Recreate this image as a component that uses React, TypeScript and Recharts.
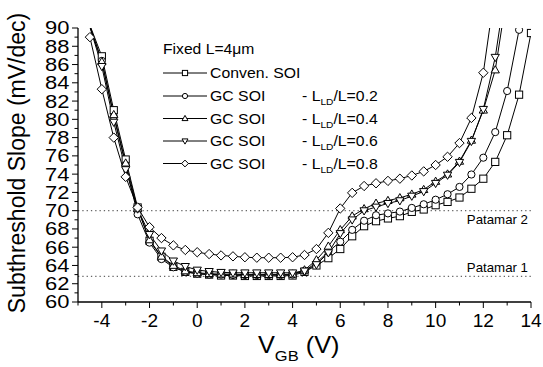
import React from 'react';
import { LineChart, Line, XAxis, YAxis, ReferenceLine } from 'recharts';

const vgb = [-4.5, -4, -3.5, -3, -2.5, -2, -1.5, -1, -0.5, 0, 0.5, 1, 1.5, 2, 2.5, 3, 3.5, 4, 4.5, 5, 5.5, 6, 6.5, 7, 7.5, 8, 8.5, 9, 9.5, 10, 10.5, 11, 11.5, 12, 12.5, 13, 13.5, 14];

const convenSOI = [90.3, 86.9, 81.0, 75.6, 70.35, 66.7, 64.95, 63.85, 63.3, 63.1, 63.0, 62.9, 62.9, 62.85, 62.85, 62.85, 62.85, 62.9, 63.3, 64.0, 64.8, 65.8, 67.2, 68.3, 68.85, 69.15, 69.4, 69.87, 70.13, 70.6, 70.96, 71.44, 72.4, 73.5, 75.34, 78.26, 82.7, 89.45];
const gc02 = [90.2, 86.4, 80.3, 75.0, 69.6, 66.5, 64.7, 63.8, 63.3, 63.1, 63.0, 63.0, 62.95, 62.95, 62.95, 62.95, 62.95, 63.0, 63.4, 64.3, 65.5, 66.6, 67.9, 68.9, 69.5, 69.7, 69.9, 70.3, 70.7, 71.2, 71.8, 72.6, 73.96, 75.8, 78.6, 83.1, 89.8, null];
const gc04 = [90.15, 86.3, 80.5, 75.2, 70.2, 66.8, 65.0, 64.0, 63.4, 63.2, 63.1, 63.05, 63.05, 63.0, 63.0, 63.0, 63.0, 63.05, 63.5, 64.6, 66.1, 67.9, 69.4, 70.2, 70.8, 71.1, 71.4, 71.8, 72.3, 73.2, 74.0, 75.4, 77.7, 81.0, 85.4, 93.8, null, null];
const gc06 = [90.1, 85.8, 79.7, 74.5, 70.2, 67.4, 65.6, 64.5, 63.9, 63.5, 63.35, 63.25, 63.2, 63.2, 63.2, 63.2, 63.2, 63.2, 63.4, 64.1, 65.4, 67.5, 69.0, 70.0, 70.4, 70.8, 71.1, 71.6, 72.1, 73.0, 73.9, 75.3, 77.6, 81.1, 86.8, 95.4, null, null];
const gc08 = [89.0, 83.3, 78.0, 73.7, 70.35, 68.2, 67.0, 66.2, 65.7, 65.45, 65.25, 65.1, 65.0, 64.9, 64.85, 64.85, 64.85, 64.9, 65.15, 65.8, 67.57, 70.24, 71.95, 72.7, 73.0, 73.26, 73.5, 73.85, 74.3, 75.0, 75.9, 77.4, 80.15, 85.1, 94.3, null, null, null];

const seriesKeys = ['conv', 'gc02', 'gc04', 'gc06', 'gc08'];
const seriesValues = [convenSOI, gc02, gc04, gc06, gc08];
const seriesShapes = ['square', 'circle', 'up', 'down', 'diamond'];
const seriesNames = ['Conven. SOI', 'GC SOI', 'GC SOI', 'GC SOI', 'GC SOI'];
const seriesRatios = ['', '0.2', '0.4', '0.6', '0.8'];

const legendTitle = 'Fixed L=4\u03bcm';
const yTitle = 'Subthreshold Slope (mV/dec)';

const xTicks = [-5, -4, -3, -2, -1, 0, 1, 2, 3, 4, 5, 6, 7, 8, 9, 10, 11, 12, 13, 14];
const xLabelTicks = [-4, -2, 0, 2, 4, 6, 8, 10, 12, 14];
const yTicks = [60, 61, 62, 63, 64, 65, 66, 67, 68, 69, 70, 71, 72, 73, 74, 75, 76, 77, 78, 79, 80, 81, 82, 83, 84, 85, 86, 87, 88, 89, 90];
const yLabelTicks = [60, 62, 64, 66, 68, 70, 72, 74, 76, 78, 80, 82, 84, 86, 88, 90];

const patamarLevels = [62.8, 70];
const patamarLabels = ['Patamar 1', 'Patamar 2'];

const data = vgb.map((v, i) => {
  const row: any = { vgb: v };
  seriesKeys.forEach((k, j) => { row[k] = seriesValues[j][i]; });
  return row;
});

const FONT = '"Liberation Sans", Arial, Helvetica, sans-serif';

function SText({ x, y, sx = 1, children, ...rest }: any) {
  return (
    <g transform={`translate(${x},${y}) scale(${sx},1)`}>
      <text x={0} y={0} fontFamily={FONT} fill="#000" {...rest}>{children}</text>
    </g>
  );
}

function Marker({ shape, cx, cy, s }: any) {
  const common = { fill: '#fff', stroke: '#000', strokeWidth: 1 };
  if (shape === 'square') return <rect x={cx - s} y={cy - s} width={2 * s} height={2 * s} {...common} />;
  if (shape === 'circle') return <circle cx={cx} cy={cy} r={s} {...common} />;
  if (shape === 'up') {
    const p = `${cx},${cy - s * 1.2} ${cx + s * 1.15},${cy + s * 0.8} ${cx - s * 1.15},${cy + s * 0.8}`;
    return <polygon points={p} {...common} />;
  }
  if (shape === 'down') {
    const p = `${cx},${cy + s * 1.2} ${cx + s * 1.15},${cy - s * 0.8} ${cx - s * 1.15},${cy - s * 0.8}`;
    return <polygon points={p} {...common} />;
  }
  const d = s * 1.3;
  const p = `${cx},${cy - d} ${cx + d},${cy} ${cx},${cy + d} ${cx - d},${cy}`;
  return <polygon points={p} {...common} />;
}

const makeDot = (shape: string) => (props: any) => {
  const { cx, cy, value, index } = props;
  if (value == null || value > 90 || cx == null || cy == null) return <g key={`d${index}`} />;
  return (
    <g key={`d${index}`}>
      <Marker shape={shape} cx={cx} cy={cy} s={3.6} />
    </g>
  );
};

const YTick = (props: any) => {
  const { x, y, payload } = props;
  const v = payload.value;
  const major = yLabelTicks.includes(v);
  return (
    <g>
      <line x1={x - (major ? 6 : 3.5)} x2={x} y1={y} y2={y} stroke="#000" strokeWidth={1} />
      {major && (
        <SText x={x - 8.5} y={y} sx={1.22} dy="0.36em" textAnchor="end" fontSize={18}>
          {v}
        </SText>
      )}
    </g>
  );
};

const XTick = (props: any) => {
  const { x, y, payload } = props;
  const v = payload.value;
  const major = xLabelTicks.includes(v);
  return (
    <g>
      <line x1={x} x2={x} y1={y} y2={y + (major ? 6 : 3.5)} stroke="#000" strokeWidth={1} />
      {major && (
        <SText x={x} y={y + 24.5} sx={1.06} textAnchor="middle" fontSize={18}>
          {v}
        </SText>
      )}
    </g>
  );
};

const patamarLabel = (idx: number) => (props: any) => {
  const vb = props.viewBox || {};
  const x = (vb.x || 0) + (vb.width || 0) - 3;
  const y = (vb.y || 0) + (idx === 1 ? 13 : -4.5);
  return (
    <SText x={x} y={y} sx={1.02} textAnchor="end" fontSize={13}>
      {patamarLabels[idx]}
    </SText>
  );
};

function Overlay() {
  const rowY = [73, 96, 118.5, 141, 163.5];
  return (
    <g>
      <g transform="translate(25,163) rotate(-90)">
        <text x={0} y={0} textAnchor="middle" fontSize={23} fontFamily={FONT} fill="#000">
          {yTitle}
        </text>
      </g>
      <SText x={258} y={353} sx={1.1} fontSize={23}>
        V
        <tspan fontSize={15} dy={8}>GB</tspan>
        <tspan dy={-8}> (V)</tspan>
      </SText>
      <SText x={163} y={54} sx={1.12} fontSize={14}>{legendTitle}</SText>
      {seriesNames.map((name, i) => (
        <g key={i}>
          <line x1={163} x2={207} y1={rowY[i]} y2={rowY[i]} stroke="#000" strokeWidth={1} />
          <Marker shape={seriesShapes[i]} cx={185} cy={rowY[i]} s={2.6} />
          <SText x={210} y={rowY[i] + 5} sx={1.13} fontSize={14}>{name}</SText>
          {seriesRatios[i] && (
            <SText x={302} y={rowY[i] + 5} sx={1.13} fontSize={14}>
              - L
              <tspan fontSize={9} dy={4}>LD</tspan>
              <tspan dy={-4}>/L={seriesRatios[i]}</tspan>
            </SText>
          )}
        </g>
      ))}
    </g>
  );
}

export default function App() {
  return (
    <div style={{ position: 'absolute', left: 0, top: 0, background: '#fff' }}>
      <LineChart width={543} height={367} data={data} margin={{ top: 28, right: 12, bottom: 0, left: 0 }}>
        <XAxis
          dataKey="vgb"
          type="number"
          domain={[-5, 14]}
          ticks={xTicks}
          interval={0}
          tick={<XTick />}
          tickLine={false}
          tickSize={0}
          tickMargin={0}
          height={65}
          axisLine={{ stroke: '#000', strokeWidth: 1.3 }}
          allowDataOverflow
        />
        <YAxis
          type="number"
          domain={[60, 90]}
          ticks={yTicks}
          interval={0}
          tick={<YTick />}
          tickLine={false}
          tickSize={0}
          tickMargin={0}
          width={78}
          axisLine={{ stroke: '#000', strokeWidth: 1.3 }}
          allowDataOverflow
        />
        {patamarLevels.map((lv, i) => (
          <ReferenceLine
            key={`p${i}`}
            y={lv}
            stroke="#666"
            strokeWidth={1.3}
            strokeDasharray="1.3 3"
            label={patamarLabel(i)}
          />
        ))}
        {seriesKeys.map((k, i) => (
          <Line
            key={k}
            dataKey={k}
            stroke="#000"
            strokeWidth={1}
            dot={makeDot(seriesShapes[i])}
            activeDot={false}
            isAnimationActive={false}
            type="linear"
          />
        ))}
        <Overlay />
      </LineChart>
    </div>
  );
}
